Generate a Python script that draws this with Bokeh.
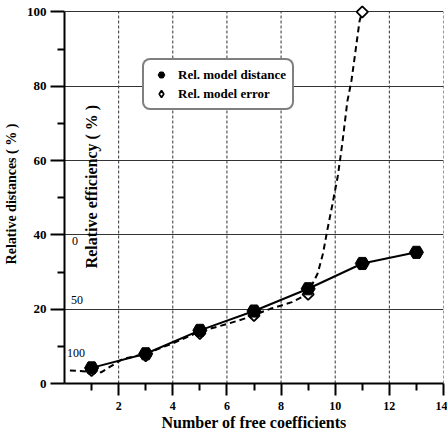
import math
from bokeh.plotting import figure
from bokeh.models import (FixedTicker, Legend, LegendItem, Label)
from bokeh.core.properties import value
from bokeh.embed import file_html
from bokeh.resources import INLINE

# ---- data ----
dist_x = [1, 3, 5, 7, 9, 11, 13]
dist_y = [4.2, 8.0, 14.3, 19.5, 25.5, 32.3, 35.3]

err_pts_x = [1, 3, 5, 7, 9, 11]
err_pts_y = [3.5, 7.5, 13.5, 18.3, 24.0, 100.0]

# dashed "Rel. model error" curve
err_curve_x = [0.2, 1.35, 2.15, 3.0, 4.0, 5.0, 6.0, 6.8, 7.0, 7.6, 8.4, 8.75,
               9.1, 9.35, 9.55, 9.7, 9.9, 10.1, 10.26, 10.45, 10.6, 10.75, 10.9, 11.0]
err_curve_y = [3.5, 3.0, 6.6, 8.0, 10.8, 14.0, 16.0, 17.8, 18.4, 20.1, 21.9, 23.2,
               25.9, 29.6, 35.0, 41.0, 48.3, 56.0, 64.5, 76.0, 81.5, 89.5, 97.6, 100.0]

x_ticks = [2, 4, 6, 8, 10, 12, 14]
x_minor = [1, 3, 5, 7, 9, 11, 13]
y_ticks = [0, 20, 40, 60, 80, 100]
y_minor = [10, 30, 50, 70, 90]
y_min, y_max = 0, 100

eff_labels = ["0", "50", "100"]
eff_label_y = [38.4, 22.6, 8.1]
eff_label_x = [0.28, 0.24, 0.09]

SERIF = "Liberation Serif"

p = figure(width=447, height=435, x_range=(0, 14), y_range=(0, 102),
           output_backend="svg", toolbar_location=None,
           min_border_left=63, min_border_right=4, min_border_top=4,
           min_border_bottom=52)
p.outline_line_color = None
p.background_fill_color = "white"

# grids: horizontal from the grid, vertical dashed drawn between 0 and 100
p.xgrid.visible = False
p.ygrid.ticker = FixedTicker(ticks=y_ticks)
p.ygrid.grid_line_color = "#333333"
p.ygrid.grid_line_width = 1
p.segment(x0=x_ticks, y0=[y_min] * len(x_ticks), x1=x_ticks, y1=[y_max] * len(x_ticks),
          line_color="#333333", line_width=1, line_dash="3 2")

# axes
p.xaxis.ticker = FixedTicker(ticks=x_ticks, minor_ticks=x_minor)
p.yaxis.ticker = FixedTicker(ticks=y_ticks, minor_ticks=y_minor)
p.yaxis.bounds = (y_min, y_max)
for ax in (p.xaxis[0], p.yaxis[0]):
    ax.axis_line_color = "black"
    ax.axis_line_width = 2
    ax.major_tick_line_color = "black"
    ax.major_tick_line_width = 2
    ax.minor_tick_line_color = "black"
    ax.minor_tick_line_width = 2
    ax.major_tick_in = 0
    ax.minor_tick_in = 0
    ax.major_label_text_font = SERIF
    ax.major_label_text_font_style = "bold"
    ax.major_label_text_color = "black"
    ax.axis_label_text_font = SERIF
    ax.axis_label_text_font_style = "bold"
    ax.axis_label_text_color = "black"

p.yaxis.major_tick_out = 14
p.yaxis.minor_tick_out = 7
p.yaxis.major_label_standoff = 4
p.yaxis.major_label_text_font_size = "13px"
p.yaxis.axis_label = "Relative distances ( % )"
p.yaxis.axis_label_text_font_size = "14px"
p.yaxis.axis_label_standoff = 5

p.xaxis.major_tick_out = 12
p.xaxis.minor_tick_out = 7
p.xaxis.major_label_standoff = 6
p.xaxis.major_label_text_font_size = "12px"
p.xaxis.axis_label = "Number of free coefficients"
p.xaxis.axis_label_text_font_size = "16px"
p.xaxis.axis_label_standoff = 1

# series
p.line(err_curve_x, err_curve_y, line_color="black", line_width=2, line_dash="6 4")
p.line(dist_x, dist_y, line_color="black", line_width=2)
# small proxies for the legend (hidden under the plotted markers)
leg_dia = p.scatter(err_pts_x, err_pts_y, marker="diamond", size=10,
                    fill_color="white", line_color="black", line_width=1.8)
p.scatter(err_pts_x, err_pts_y, marker="square", angle=math.pi / 4, size=8,
          fill_color="white", line_color="black", line_width=1.8)
leg_hex = p.scatter(dist_x, dist_y, marker="hex", size=10, fill_color="black",
                    line_color="black")
p.scatter(dist_x, dist_y, marker="hex", size=14, fill_color="black",
          line_color="black")

legend = Legend(items=[LegendItem(label="Rel. model distance", renderers=[leg_hex]),
                       LegendItem(label="Rel. model error", renderers=[leg_dia])],
                location=(78, 273))
legend.border_line_color = "black"
legend.border_line_width = 2
legend.background_fill_color = "white"
legend.background_fill_alpha = 1
legend.padding = 6
legend.margin = 0
legend.spacing = 2
legend.glyph_width = 22
legend.glyph_height = 17
legend.label_height = 17
legend.label_standoff = 6
legend.label_text_font = SERIF
legend.label_text_font_style = "bold"
legend.label_text_font_size = "13px"
legend.label_text_color = "black"
try:
    legend.border_radius = 8
except Exception:
    pass
p.add_layout(legend, "center")

# inner rotated label
p.add_layout(Label(x=1.0, y=53, text="Relative efficiency ( % )", angle=math.pi / 2,
                   text_align="center", text_baseline="middle",
                   text_font=SERIF, text_font_style="bold", text_font_size="16px",
                   text_color="black"))

# secondary efficiency scale labels
p.text(x=eff_label_x, y=eff_label_y, text=eff_labels, text_font=value(SERIF),
       text_font_size="12px", text_align="left", text_baseline="middle",
       text_color="black")

open("out.html", "w").write(file_html(p, INLINE))
